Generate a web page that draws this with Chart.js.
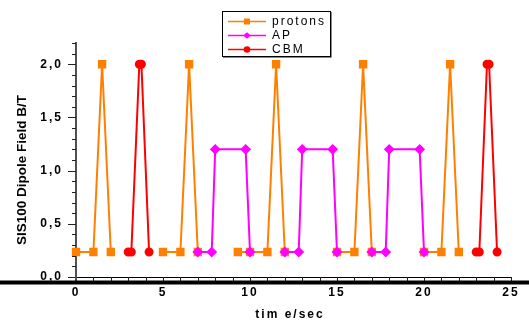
<!DOCTYPE html>
<html>
<head>
<meta charset="utf-8">
<script src="https://cdn.jsdelivr.net/npm/chart.js@4.4.1/dist/chart.umd.min.js"></script>
<style>
    html, body { margin: 0; padding: 0; background: #fff; }
    .chart-container { position: relative; width: 529px; height: 325px; }
</style>
</head>
<body>
<div class="chart-container">
    <canvas id="DipoleChart"></canvas>
</div>
<script>
// time (s) and field (T), null = break in the line
const protonsTime  = [0, 1, 1.5, 2, 3, 5, 6, 6.5, 7, 8, 9.3, 10, 11, 11.5, 12, 13, 15, 16, 16.5, 17, 18, 20, 21, 21.5, 22];
const protonsField = [0.235, 0.235, 2.0, 0.235, null, 0.235, 0.235, 2.0, 0.235, null, 0.235, 0.235, 0.235, 2.0, 0.235, null, 0.235, 0.235, 2.0, 0.235, null, 0.235, 0.235, 2.0, 0.235];

const apTime  = [7, 7.8, 8, 9.75, 10, 11, 12, 12.8, 13, 14.75, 15, 16, 17, 17.8, 18, 19.75, 20];
const apField = [0.235, 0.235, 1.2, 1.2, 0.235, null, 0.235, 0.235, 1.2, 1.2, 0.235, null, 0.235, 0.235, 1.2, 1.2, 0.235];

const cbmTime  = [3.0, 3.18, 3.64, 3.76, 4.2, 10, 23.0, 23.18, 23.62, 23.74, 24.2];
const cbmField = [0.235, 0.235, 2.0, 2.0, 0.235, null, 0.235, 0.235, 2.0, 2.0, 0.235];

const seriesNames = ['protons', 'AP', 'CBM'];
const xTickLabels = [0, 5, 10, 15, 20, 25];
const yTickLabels = [0, 0.5, 1.0, 1.5, 2.0];

const FONT = "'Liberation Sans', Arial, sans-serif";

function toPoints(xs, ys) {
    return xs.map((x, i) => ({ x: x, y: ys[i] }));
}

function marker(ctx, style, color, x, y, r) {
    ctx.save();
    ctx.fillStyle = color;
    ctx.beginPath();
    if (style === 'rect') {
        ctx.rect(x - r, y - r, 2 * r, 2 * r);
    } else if (style === 'rectRot') {
        ctx.moveTo(x - r - 0.5, y);
        ctx.lineTo(x, y - r);
        ctx.lineTo(x + r + 0.5, y);
        ctx.lineTo(x, y + r);
        ctx.closePath();
    } else {
        ctx.arc(x, y, r, 0, Math.PI * 2);
    }
    ctx.fill();
    ctx.restore();
}

const extrasPlugin = {
    id: 'extras',
    beforeDraw(chart) {
        chart.ctx.letterSpacing = '2px';
    },
    afterDraw(chart) {
        const ctx = chart.ctx;
        const xs = chart.scales.x;
        const ys = chart.scales.y;
        ctx.save();

        // tick marks
        ctx.strokeStyle = '#222';
        ctx.lineWidth = 1;
        ctx.beginPath();
        for (let t = 0; t <= 25; t++) {
            const px = Math.round(xs.getPixelForValue(t)) + 0.5;
            ctx.moveTo(px, ys.bottom);
            ctx.lineTo(px, ys.bottom + 4);
        }
        for (let k = 0; k <= 22; k++) {
            const py = Math.round(ys.getPixelForValue(k / 10)) + 0.5;
            const len = (k % 5 === 0) ? 8 : 4;
            ctx.moveTo(xs.left - len, py);
            ctx.lineTo(xs.left, py);
        }
        ctx.stroke();

        // y axis runs down to the rule
        ctx.strokeStyle = '#505050';
        ctx.lineWidth = 2;
        ctx.beginPath();
        ctx.moveTo(xs.left, ys.bottom);
        ctx.lineTo(xs.left, 281);
        ctx.stroke();

        // heavy rule under the axis
        ctx.fillStyle = '#000';
        ctx.fillRect(0, 280.5, chart.width, 4);

        // axis titles
        ctx.letterSpacing = '0px';
        ctx.fillStyle = '#000';
        ctx.font = 'bold 13.5px ' + FONT;
        ctx.textAlign = 'center';
        ctx.textBaseline = 'middle';
        ctx.save();
        ctx.translate(22.5, 170);
        ctx.rotate(-Math.PI / 2);
        ctx.fillText('SIS100 Dipole Field B/T', 0, 0);
        ctx.restore();

        ctx.letterSpacing = '2px';
        ctx.font = 'bold 12px ' + FONT;
        ctx.fillText('tim e/sec', 290, 315);

        // legend box
        ctx.fillStyle = '#fff';
        ctx.fillRect(222, 11, 108, 45);
        ctx.strokeStyle = '#888';
        ctx.lineWidth = 1;
        ctx.beginPath();
        ctx.moveTo(331.5, 12);
        ctx.lineTo(331.5, 57.5);
        ctx.lineTo(223, 57.5);
        ctx.stroke();
        ctx.strokeStyle = '#000';
        ctx.strokeRect(222.5, 11.5, 108, 45);

        ctx.font = '12px ' + FONT;
        ctx.textAlign = 'left';
        chart.data.datasets.forEach((ds, i) => {
            const y = 21.5 + i * 14;
            ctx.strokeStyle = ds.borderColor;
            ctx.lineWidth = 1.5;
            ctx.beginPath();
            ctx.moveTo(228, y);
            ctx.lineTo(266, y);
            ctx.stroke();
            marker(ctx, ds.pointStyle, ds.borderColor, 247, y, ds.pointStyle === 'rect' ? 3 : 3.3);
            ctx.fillStyle = '#000';
            ctx.fillText(ds.label, 272, y + 0.5);
        });

        ctx.restore();
    }
};

document.addEventListener('DOMContentLoaded', function() {
    drawChart();
});

function drawChart() {
    const ctx = document.getElementById('DipoleChart').getContext('2d');
    new Chart(ctx, {
        type: 'line',
        data: {
            datasets: [
                {
                    label: seriesNames[0],
                    data: toPoints(protonsTime, protonsField),
                    borderColor: '#FF8000',
                    backgroundColor: '#FF8000',
                    pointStyle: 'rect',
                    pointRadius: 4.5,
                    borderWidth: 2,
                    order: 3
                },
                {
                    label: seriesNames[1],
                    data: toPoints(apTime, apField),
                    borderColor: '#FF00FF',
                    backgroundColor: '#FF00FF',
                    pointStyle: 'rectRot',
                    pointRadius: 4,
                    borderWidth: 2,
                    order: 2
                },
                {
                    label: seriesNames[2],
                    data: toPoints(cbmTime, cbmField),
                    borderColor: '#FF0000',
                    backgroundColor: '#FF0000',
                    pointStyle: 'circle',
                    pointRadius: 3.5,
                    borderWidth: 2,
                    order: 1
                }
            ]
        },
        options: {
            responsive: true,
            maintainAspectRatio: false,
            animation: false,
            clip: false,
            spanGaps: false,
            layout: { padding: { left: 0, top: 43, right: 18, bottom: 0 } },
            elements: {
                line: { tension: 0 },
                point: { borderWidth: 0, hoverRadius: 4 }
            },
            plugins: {
                legend: { display: false },
                title: { display: false },
                tooltip: { enabled: false }
            },
            scales: {
                x: {
                    type: 'linear',
                    min: 0,
                    max: 25,
                    afterFit: function(scale) { scale.height = 48; },
                    afterBuildTicks: function(scale) {
                        scale.ticks = xTickLabels.map(v => ({ value: v }));
                    },
                    grid: { display: false },
                    border: { display: true, color: '#000', width: 1 },
                    ticks: {
                        autoSkip: false,
                        maxRotation: 0,
                        padding: 0,
                        color: '#000',
                        font: { family: FONT, size: 12, weight: 'bold' },
                        callback: v => String(v)
                    }
                },
                y: {
                    min: 0,
                    max: 2.2,
                    afterFit: function(scale) { scale.width = 76; },
                    afterBuildTicks: function(scale) {
                        scale.ticks = yTickLabels.map(v => ({ value: v }));
                    },
                    grid: { display: false },
                    border: { display: true, color: '#505050', width: 2 },
                    ticks: {
                        autoSkip: false,
                        padding: 5,
                        color: '#000',
                        font: { family: FONT, size: 12, weight: 'bold' },
                        callback: v => v.toFixed(1).replace('.', ',')
                    }
                }
            }
        },
        plugins: [extrasPlugin]
    });
}
</script>
</body>
</html>
